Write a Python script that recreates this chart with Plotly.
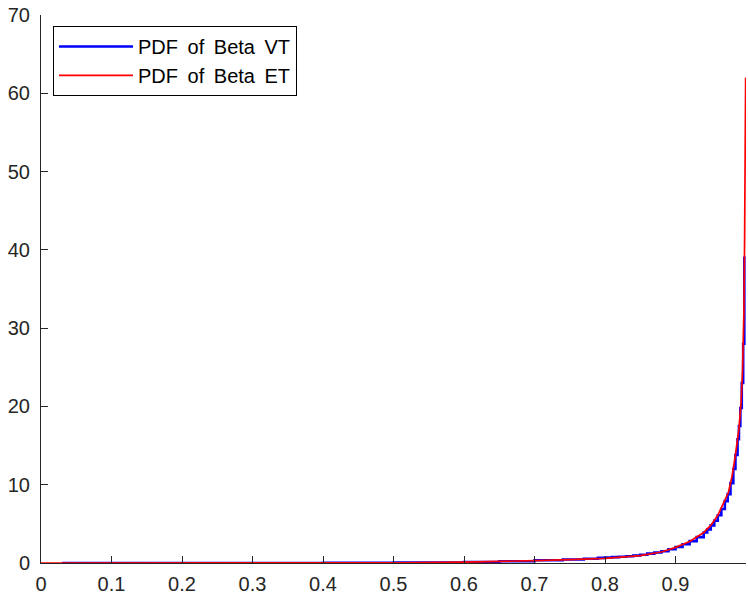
import plotly.graph_objects as go

# Red curve: PDF of Beta ET (smooth)
et_x = [0.0, 0.1, 0.2, 0.3, 0.4, 0.5, 0.6, 0.65, 0.7, 0.75, 0.8, 0.85, 0.88, 0.9,
        0.92, 0.94, 0.95, 0.96, 0.97, 0.975, 0.98, 0.985, 0.99, 0.993, 0.995, 0.997,
        0.998, 0.9995]
et_y = [0.0, 0.0, 0.0, 0.001, 0.008, 0.03, 0.1, 0.17, 0.3, 0.42, 0.6, 0.95, 1.4, 2.0,
        2.75, 3.9, 4.8, 6.1, 7.9, 9.0, 11.0, 13.8, 17.2, 20.5, 24.5, 32.0,
        41.0, 62.0]

# Blue staircase: PDF of Beta VT (binned)
vt_x = [0.03, 0.055, 0.2, 0.4, 0.5, 0.6, 0.65, 0.7, 0.74, 0.77, 0.79, 0.8, 0.81,
        0.82, 0.83, 0.84, 0.85, 0.86, 0.87, 0.88, 0.89, 0.9, 0.91, 0.92, 0.93,
        0.94, 0.945, 0.95, 0.955, 0.96, 0.965, 0.97, 0.974, 0.978, 0.982, 0.985,
        0.988, 0.99, 0.992, 0.994, 0.996, 0.9976, 0.9995]
vt_y = [0.0, 0.001, 0.003, 0.015, 0.05, 0.13, 0.22, 0.35, 0.45, 0.55, 0.65, 0.7, 0.75,
        0.8, 0.87, 0.95, 1.05, 1.2, 1.35, 1.5, 1.75, 2.05, 2.4, 2.8, 3.3,
        3.9, 4.3, 4.8, 5.4, 6.1, 6.9, 7.9, 8.8, 10.2, 12.0, 13.8,
        15.8, 17.5, 19.8, 23.0, 28.0, 39.0, 39.0]

x_ticks = [0, 0.1, 0.2, 0.3, 0.4, 0.5, 0.6, 0.7, 0.8, 0.9, 1]
x_tick_labels = ["0", "0.1", "0.2", "0.3", "0.4", "0.5", "0.6", "0.7", "0.8", "0.9", "1"]
y_ticks = [0, 10, 20, 30, 40, 50, 60, 70]
y_tick_labels = ["0", "10", "20", "30", "40", "50", "60", "70"]

FONT = "Liberation Sans, Arial, sans-serif"
AX = "#262626"
SP = " \u2009"  # slightly wider word spacing, as in the reference legend

fig = go.Figure()
fig.add_trace(go.Scatter(x=vt_x, y=vt_y, mode="lines",
                         name=SP.join(["PDF", "of", "Beta", "VT"]),
                         line=dict(color="#0000FF", width=2.6, shape="hv")))
fig.add_trace(go.Scatter(x=et_x, y=et_y, mode="lines",
                         name=SP.join(["PDF", "of", "Beta", "ET"]),
                         line=dict(color="#FF0000", width=1.7)))

fig.update_layout(
    width=748, height=597,
    margin=dict(l=41, r=2, t=15, b=28, pad=0),
    paper_bgcolor="white", plot_bgcolor="white",
    font=dict(family=FONT, size=20, color=AX),
    showlegend=True,
    legend=dict(x=0.017, y=0.98, xanchor="left", yanchor="top",
                bgcolor="white", bordercolor="#000000", borderwidth=1,
                font=dict(family=FONT, size=20, color="#000000"),
                tracegroupgap=0, itemwidth=74),
    xaxis=dict(range=[0, 1], tickvals=x_ticks, ticktext=x_tick_labels,
               showgrid=False, zeroline=False, showline=True, linecolor=AX,
               linewidth=1, ticks="inside", ticklen=7, tickcolor=AX,
               ticklabelstandoff=3, mirror=False),
    yaxis=dict(range=[0, 70], tickvals=y_ticks, ticktext=y_tick_labels,
               showgrid=False, zeroline=False, showline=True, linecolor=AX,
               linewidth=1, ticks="inside", ticklen=7, tickcolor=AX,
               ticklabelstandoff=6, mirror=False),
)

fig.write_html("out.html")
